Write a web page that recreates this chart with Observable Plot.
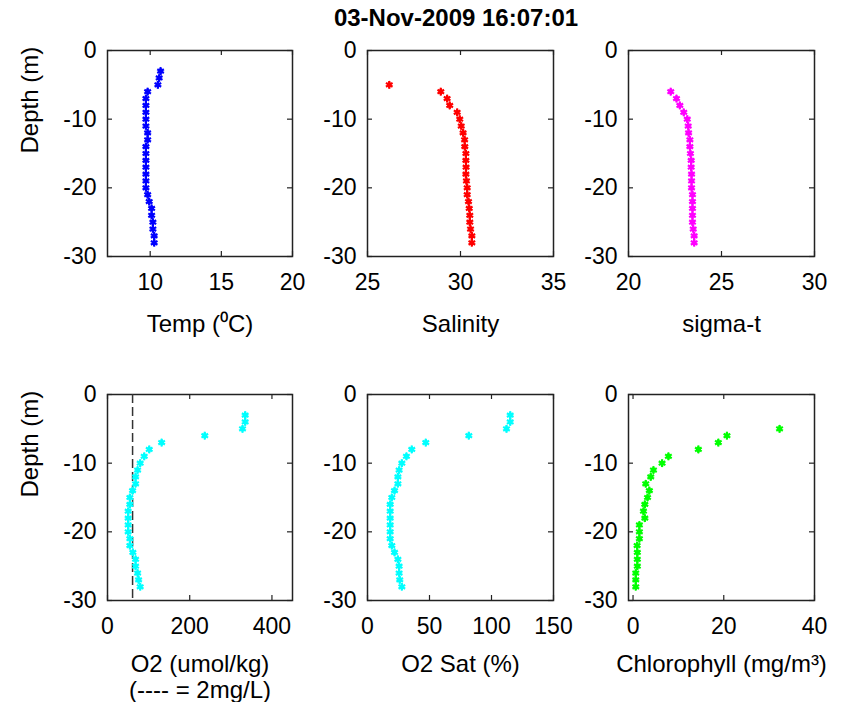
<!DOCTYPE html>
<html>
<head>
<meta charset="utf-8">
<script src="https://cdn.jsdelivr.net/npm/d3@7"></script>
<script src="https://cdn.jsdelivr.net/npm/@observablehq/plot@0.6"></script>
<style>
  body { margin: 0; background: #fff; }
  #fig { position: relative; width: 842px; height: 702px; font-family: "Liberation Sans", Arial, Helvetica, sans-serif; }
  #fig svg { position: absolute; overflow: visible; }
  #title { position: absolute; top: 6px; left: 456px; transform: translateX(-50%); font-weight: bold; font-size: 24px; line-height: 1; white-space: nowrap; color: #000; }
</style>
</head>
<body>
<div id="fig"><div id="title"></div></div>
<script>
// CTD cast profile, one value per metre of depth
const title = "03-Nov-2009 16:07:01";
const depth = [-3, -4, -5, -6, -7, -8, -9, -10, -11, -12, -13, -14, -15, -16, -17, -18, -19, -20, -21, -22, -23, -24, -25, -26, -27, -28];

const temp = [10.73, 10.63, 10.54, 9.82, 9.70, 9.70, 9.70, 9.70, 9.70, 9.82, 9.82, 9.70, 9.70, 9.70, 9.70, 9.70, 9.70, 9.70, 9.82, 9.93, 10.10, 10.10, 10.19, 10.19, 10.28, 10.28];
const salinity = [null, null, 26.17, 28.94, 29.28, 29.42, 29.82, 29.96, 30.04, 30.14, 30.22, 30.23, 30.29, 30.29, 30.30, 30.29, 30.32, 30.36, 30.36, 30.43, 30.47, 30.50, 30.50, 30.54, 30.61, 30.61];
const sigmaT = [null, null, null, 22.27, 22.58, 22.76, 22.97, 23.16, 23.21, 23.23, 23.30, 23.30, 23.33, 23.37, 23.37, 23.39, 23.39, 23.39, 23.44, 23.44, 23.44, 23.44, 23.44, 23.48, 23.53, 23.53];
const o2 = [334.9, 334.9, 328.4, 236.6, 131.7, 101.5, 89.3, 79.5, 73.2, 68.3, 68.3, 61.0, 54.4, 54.4, 50.3, 50.3, 50.3, 50.3, 54.4, 54.4, 61.7, 68.3, 68.3, 73.2, 75.6, 79.5];
const o2Sat = [115.1, 115.1, 112.1, 81.7, 47.0, 35.7, 31.4, 27.7, 25.5, 24.5, 24.5, 21.8, 19.6, 18.3, 18.3, 18.3, 18.3, 18.3, 18.3, 19.6, 21.8, 24.5, 25.5, 25.5, 26.0, 27.7];
const chlorophyll = [null, null, 32.3, 20.7, 18.8, 14.4, 7.8, 6.4, 4.5, 3.9, 2.8, 3.6, 3.2, 2.6, 2.3, 2.6, 1.4, 1.4, 1.4, 0.9, 0.95, 0.95, 0.95, 0.6, 0.6, 0.6];

// hypoxia threshold: 2 mg/L expressed in umol/kg
const o2Threshold = 61;

const depthTicks = [0, -10, -20, -30];
const tempTicks = [10, 15, 20];
const salinityTicks = [25, 30, 35];
const sigmaTicks = [20, 25, 30];
const o2Ticks = [0, 200, 400];
const o2SatTicks = [0, 50, 100, 150];
const chlTicks = [0, 20, 40];

const depthLabel = "Depth (m)";
const xLabels = ["Temp (\u2070C)", "Salinity", "sigma-t", "O2 (umol/kg)\n(---- = 2mg/L)", "O2 Sat (%)", "Chlorophyll (mg/m\u00b3)"];

// subplot layout (frame position in page pixels)
const FRAME_H = 206;
const M = {top: 20, right: 60, bottom: 110, left: 110};
const FONT = "\"Liberation Sans\", Arial, Helvetica, sans-serif";
const panels = [
  {values: temp,        color: "#0000ff", domain: [7, 20],   ticks: tempTicks,     label: xLabels[0], left: 107, top: 50,  width: 185, labelDy: 57, yLabel: true},
  {values: salinity,    color: "#ff0000", domain: [25, 35],  ticks: salinityTicks, label: xLabels[1], left: 367, top: 50,  width: 186, labelDy: 57},
  {values: sigmaT,      color: "#ff00ff", domain: [20, 30],  ticks: sigmaTicks,    label: xLabels[2], left: 628, top: 50,  width: 186, labelDy: 57},
  {values: o2,          color: "#00ffff", domain: [0, 450],  ticks: o2Ticks,       label: xLabels[3], left: 107, top: 394, width: 185, labelDy: 53, yLabel: true, threshold: o2Threshold},
  {values: o2Sat,       color: "#00ffff", domain: [0, 150],  ticks: o2SatTicks,    label: xLabels[4], left: 367, top: 394, width: 186, labelDy: 53},
  {values: chlorophyll, color: "#00ff00", domain: [-1, 40],  ticks: chlTicks,      label: xLabels[5], left: 628, top: 394, width: 186, labelDy: 53}
];

const fig = document.getElementById("fig");
document.getElementById("title").textContent = title;

for (const p of panels) {
  const rows = depth.map((d, i) => ({depth: d, value: p.values[i]})).filter(r => r.value != null);
  const w = p.width;
  const ink = "#222";
  const marks = [
    Plot.frame({stroke: ink, strokeWidth: 1.5}),
    // inward ticks on all four sides
    Plot.tickX(p.ticks, {x: d => d, insetTop: FRAME_H - 5, stroke: ink, strokeWidth: 1.2}),
    Plot.tickX(p.ticks, {x: d => d, insetBottom: FRAME_H - 5, stroke: ink, strokeWidth: 1.2}),
    Plot.tickY(depthTicks, {y: d => d, insetRight: w - 5, stroke: ink, strokeWidth: 1.2}),
    Plot.tickY(depthTicks, {y: d => d, insetLeft: w - 5, stroke: ink, strokeWidth: 1.2}),
    Plot.axisX(p.ticks, {tickSize: 0, tickPadding: 17, tickFormat: d => String(d), fontSize: 23, label: null}),
    Plot.axisY(depthTicks, {tickSize: 0, tickPadding: 11, tickFormat: d => String(d), fontSize: 23, label: null}),
    Plot.text([p.label], {frameAnchor: "bottom", lineAnchor: "top", dy: p.labelDy, fontSize: 24, lineHeight: 1.08, fill: "black"})
  ];
  if (p.yLabel) {
    marks.push(Plot.text([depthLabel], {frameAnchor: "left", rotate: -90, dx: -77, fontSize: 24, fill: "black"}));
  }
  if (p.threshold != null) {
    marks.push(Plot.ruleX([p.threshold], {x: d => d, stroke: "#333", strokeWidth: 1.5, strokeDasharray: "9,4"}));
  }
  // asterisk markers drawn over a small filled diamond
  marks.push(Plot.dot(rows, {x: "value", y: "depth", symbol: "diamond", r: 2.6, fill: p.color}));
  marks.push(Plot.dot(rows, {x: "value", y: "depth", symbol: "asterisk", r: 3.6, stroke: p.color, strokeWidth: 2.2}));

  const chart = Plot.plot({
    width: M.left + w + M.right,
    height: M.top + FRAME_H + M.bottom,
    marginTop: M.top, marginRight: M.right, marginBottom: M.bottom, marginLeft: M.left,
    x: {domain: p.domain},
    y: {domain: [-30, 0]},
    style: {background: "transparent", overflow: "visible", fontFamily: FONT, color: "black"},
    marks
  });
  chart.style.left = (p.left - M.left) + "px";
  chart.style.top = (p.top - M.top) + "px";
  chart.style.maxWidth = "none";
  fig.appendChild(chart);
}
</script>
</body>
</html>
